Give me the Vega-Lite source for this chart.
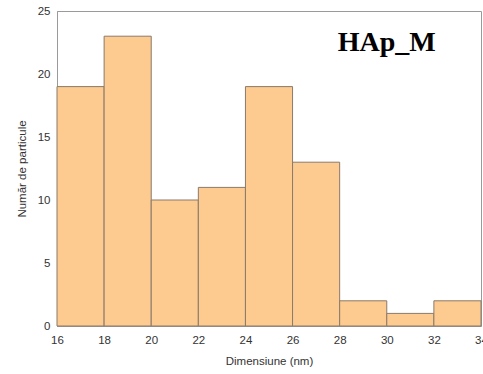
{
  "$schema": "https://vega.github.io/schema/vega-lite/v6.json",
  "width": 424,
  "height": 315,
  "autosize": {"type": "none"},
  "padding": {"left": 57, "top": 11, "right": 2, "bottom": 48},
  "background": "white",
  "config": {
    "view": {"stroke": "#9a9a9a", "strokeWidth": 1},
    "axis": {
      "grid": false,
      "ticks": false,
      "domainColor": "#9a9a9a",
      "labelFont": "Liberation Sans",
      "labelFontSize": 11.5,
      "labelColor": "#333333",
      "titleFont": "Liberation Sans",
      "titleFontSize": 11.5,
      "titleFontWeight": "normal",
      "titleColor": "#333333"
    }
  },
  "layer": [
    {
      "data": {
        "values": [
          {"bin_start": 16, "bin_end": 18, "count": 19},
          {"bin_start": 18, "bin_end": 20, "count": 23},
          {"bin_start": 20, "bin_end": 22, "count": 10},
          {"bin_start": 22, "bin_end": 24, "count": 11},
          {"bin_start": 24, "bin_end": 26, "count": 19},
          {"bin_start": 26, "bin_end": 28, "count": 13},
          {"bin_start": 28, "bin_end": 30, "count": 2},
          {"bin_start": 30, "bin_end": 32, "count": 1},
          {"bin_start": 32, "bin_end": 34, "count": 2}
        ]
      },
      "mark": {"type": "bar", "fill": "#fdca90", "stroke": "#8a7a6a", "strokeWidth": 1},
      "encoding": {
        "x": {
          "field": "bin_start",
          "type": "quantitative",
          "scale": {"domain": [16, 34], "nice": false, "zero": false},
          "axis": {"values": [16, 18, 20, 22, 24, 26, 28, 30, 32, 34], "labelPadding": 8, "title": "Dimensiune (nm)", "titlePadding": 10, "labelFlush": false}
        },
        "x2": {"field": "bin_end"},
        "y": {
          "field": "count",
          "type": "quantitative",
          "scale": {"domain": [0, 25], "nice": false},
          "axis": {"values": [0, 5, 10, 15, 20, 25], "labelPadding": 7, "title": "Număr de particule", "titlePadding": 10}
        },
        "y2": {"datum": 0}
      }
    },
    {
      "data": {"values": [{"label": "HAp_M", "x": 30, "y": 21.8}]},
      "mark": {"type": "text", "font": "Liberation Serif", "fontSize": 28, "fontWeight": "bold", "color": "#000000", "align": "center", "baseline": "alphabetic"},
      "encoding": {
        "x": {"field": "x", "type": "quantitative"},
        "y": {"field": "y", "type": "quantitative"},
        "text": {"field": "label"}
      }
    }
  ]
}
